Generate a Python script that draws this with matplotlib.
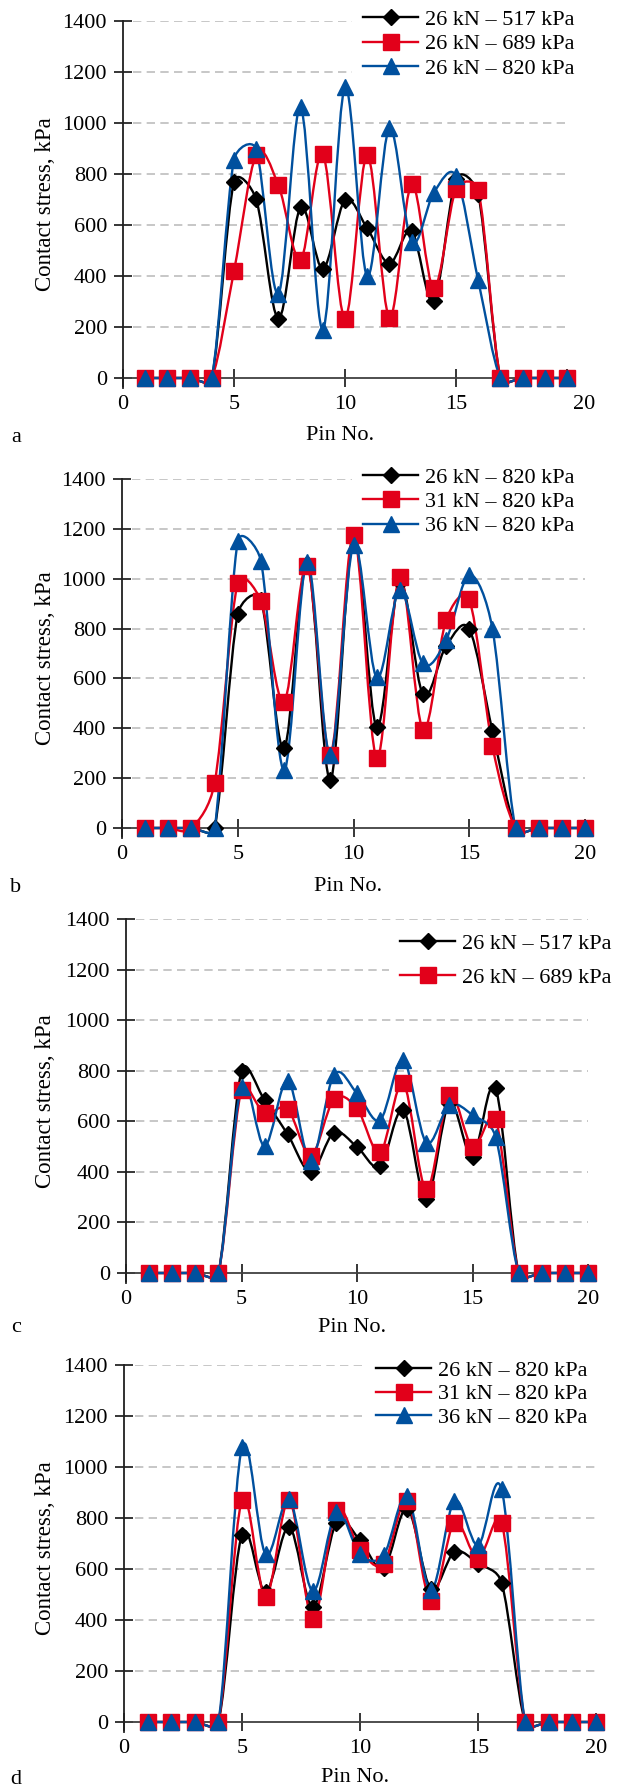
import numpy as np
import matplotlib
matplotlib.use("Agg")
import matplotlib.pyplot as plt
from matplotlib.path import Path
from matplotlib.patches import PathPatch
from matplotlib.lines import Line2D
from matplotlib.transforms import ScaledTranslation

plt.rcParams['font.family'] = ['Liberation Serif', 'DejaVu Serif']

# ---------------- data ----------------
pins = list(range(1, 21))
x_ticks = [0, 5, 10, 15, 20]
y_ticks = [0, 200, 400, 600, 800, 1000, 1200, 1400]

# panel a
a_26_517 = [0, 0, 0, 0, 769, 700, 233, 669, 429, 697, 587, 449, 576, 301, 780, 720, 0, 0, 0, 0]
a_26_689 = [0, 0, 0, 0, 420, 874, 756, 464, 878, 233, 874, 237, 759, 353, 741, 739, 0, 0, 0, 0]
a_26_820 = [0, 0, 0, 0, 856, 897, 331, 1061, 190, 1140, 399, 979, 534, 727, 792, 383, 0, 0, 0, 0]
a_labels = ['26 kN – 517 kPa', '26 kN – 689 kPa', '26 kN – 820 kPa']

# panel b
b_26_820 = [0, 0, 0, 0, 858, 915, 319, 1060, 194, 1160, 406, 988, 537, 730, 798, 390, 0, 0, 0, 0]
b_31_820 = [0, 0, 0, 181, 984, 910, 506, 1052, 294, 1175, 281, 1008, 395, 834, 917, 329, 0, 0, 0, 0]
b_36_820 = [0, 0, 0, 0, 1150, 1072, 232, 1068, 292, 1135, 604, 954, 660, 754, 1015, 800, 0, 0, 0, 0]
b_labels = ['26 kN – 820 kPa', '31 kN – 820 kPa', '36 kN – 820 kPa']

# panel c
c_26_517 = [0, 0, 0, 0, 799, 684, 548, 400, 555, 499, 423, 645, 291, 671, 460, 730, 0, 0, 0, 0]
c_26_689 = [0, 0, 0, 0, 724, 631, 649, 464, 687, 651, 477, 750, 331, 704, 499, 608, 0, 0, 0, 0]
c_26_820 = [0, 0, 0, 0, 737, 502, 761, 444, 783, 711, 605, 843, 516, 664, 625, 539, 0, 0, 0, 0]
c_labels = ['26 kN – 517 kPa', '26 kN – 689 kPa', None]

# panel d
d_26_820 = [0, 0, 0, 0, 735, 510, 765, 451, 781, 713, 602, 837, 523, 667, 621, 546, 0, 0, 0, 0]
d_31_820 = [0, 0, 0, 0, 870, 491, 870, 402, 831, 674, 621, 867, 475, 782, 641, 782, 0, 0, 0, 0]
d_36_820 = [0, 0, 0, 0, 1077, 658, 873, 513, 824, 658, 654, 887, 517, 867, 693, 912, 0, 0, 0, 0]
d_labels = ['26 kN – 820 kPa', '31 kN – 820 kPa', '36 kN – 820 kPa']

panel_letters = ['a', 'b', 'c', 'd']
x_label = 'Pin No.'
y_label = 'Contact stress, kPa'

# ---------------- style ----------------
W, H = 632, 1787
COLORS = ['#000000', '#E2001A', '#00509E']
MARKERS = ['D', 's', '^']
MSIZES = [8.5, 11, 12]
LW = 1.7
FS = 16
YMIN = -40

fig = plt.figure(figsize=(W / 100, H / 100), dpi=100)


def fx(x):
    return x / W


def fy(y):
    return 1 - y / H


def smooth_path(xs, ys, sx, sy):
    """Excel-like smoothed Bezier through the points (handles limited to half segment)."""
    P = np.column_stack([np.asarray(xs, float) * sx, np.asarray(ys, float) * sy])
    n = len(P)
    verts = [P[0]]
    codes = [Path.MOVETO]
    for i in range(n - 1):
        p0 = P[i - 1] if i > 0 else P[i]
        p1 = P[i]
        p2 = P[i + 1]
        p3 = P[i + 2] if i + 2 < n else P[i + 1]
        d12 = np.hypot(*(p2 - p1))
        t1 = p2 - p0
        t2 = p3 - p1
        n1 = np.hypot(*t1)
        n2 = np.hypot(*t2)
        c1 = p1.copy()
        c2 = p2.copy()
        if n1 > 0:
            L = min(n1 / 6, d12 / 2)
            c1 = p1 + t1 / n1 * L
        if n2 > 0:
            L = min(n2 / 6, d12 / 2)
            c2 = p2 - t2 / n2 * L
        verts += [c1, c2, p2]
        codes += [Path.CURVE4] * 3
    V = np.array(verts)
    V[:, 0] /= sx
    V[:, 1] /= sy
    return Path(V, codes)


panels = [
    dict(series=[a_26_517, a_26_689, a_26_820], labels=a_labels,
         x0=123, x20=567, y1400=21, y0=378, leg_x=363, leg_y=16, leg_ls=0.19,
         shift20=17, xl_y=436),
    dict(series=[b_26_820, b_31_820, b_36_820], labels=b_labels,
         x0=122, x20=585, y1400=479, y0=828, leg_x=363, leg_y=474, leg_ls=0.17,
         shift20=0, xl_y=886),
    dict(series=[c_26_517, c_26_689, c_26_820], labels=c_labels,
         x0=126, x20=588, y1400=919, y0=1273, leg_x=400, leg_y=940, leg_ls=0.62,
         shift20=0, xl_y=1327),
    dict(series=[d_26_820, d_31_820, d_36_820], labels=d_labels,
         x0=124, x20=596, y1400=1365, y0=1722, leg_x=376, leg_y=1367, leg_ls=0.14,
         shift20=0, xl_y=1778),
]

for k, p in enumerate(panels):
    ppk = (p['y0'] - p['y1400']) / 1400.0
    bottom_px = p['y0'] - YMIN * ppk
    ax = fig.add_axes([fx(p['x0']), fy(bottom_px), (p['x20'] - p['x0']) / W,
                       (bottom_px - p['y1400']) / H])
    ax.set_xlim(0, 20)
    ax.set_ylim(YMIN, 1400)
    ax.patch.set_alpha(0)

    # gridlines
    ax.hlines(y_ticks[1:], 0.45, 20, colors='#bdbdbd', linewidth=1.2,
              linestyles=(0, (5, 3.2)), zorder=1)

    sx = (p['x20'] - p['x0']) / 20.0
    sy = ppk
    handles = []
    for i, ys in enumerate(p['series']):
        path = smooth_path(pins, ys, sx, sy)
        patch = PathPatch(path, facecolor='none', edgecolor=COLORS[i], lw=LW,
                          zorder=3, clip_on=False, capstyle='round', joinstyle='round')
        ax.add_patch(patch)
        ax.plot(pins, ys, linestyle='none', marker=MARKERS[i], ms=MSIZES[i],
                color=COLORS[i], mec=COLORS[i], zorder=4 + i, clip_on=False)
        if p['labels'][i] is not None:
            handles.append((Line2D([], [], color=COLORS[i], lw=LW, marker=MARKERS[i],
                                   ms=MSIZES[i], mec=COLORS[i]), p['labels'][i]))

    # spines
    for s in ['top', 'right']:
        ax.spines[s].set_visible(False)
    ax.spines['bottom'].set_position(('data', 0))
    ax.spines['bottom'].set_color('#404040')
    ax.spines['left'].set_color('#202020')
    ax.spines['bottom'].set_linewidth(1.3)
    ax.spines['left'].set_linewidth(1.3)
    ax.spines['bottom'].set_zorder(2)

    ax.set_xticks(x_ticks)
    ax.set_yticks(y_ticks)
    ax.set_xticklabels([str(v) for v in x_ticks])
    ax.set_yticklabels([str(v) for v in y_ticks])
    ax.tick_params(axis='both', direction='inout', length=13, width=1.1,
                   color='#000000', labelsize=FS)
    ax.tick_params(axis='y', pad=5)
    ax.tick_params(axis='x', pad=6)

    if p['shift20']:
        lbl = ax.get_xticklabels()[-1]
        lbl.set_transform(lbl.get_transform() +
                          ScaledTranslation(p['shift20'] / 100, 0, fig.dpi_scale_trans))

    # legend (drawn above gridlines, below the data marks)
    fs_px = FS * 100 / 72
    leg = ax.legend([h for h, _ in handles], [l for _, l in handles],
                    loc='upper left',
                    bbox_to_anchor=(fx(p['leg_x'] - 0.5 * fs_px), fy(p['leg_y'] - 18)),
                    bbox_transform=fig.transFigure, borderaxespad=0, borderpad=0.5,
                    fontsize=FS, handlelength=2.48, handletextpad=0.32,
                    labelspacing=p['leg_ls'], numpoints=1, frameon=True,
                    fancybox=False, facecolor='white', edgecolor='none', framealpha=1)
    leg.set_zorder(2.5)

    # axis labels and panel letter
    mid_x = (p['x0'] + p['x20']) / 2 - 5
    fig.text(fx(mid_x), fy(p['xl_y']), x_label, ha='center', va='center', fontsize=FS)
    fig.text(fx(46), fy((p['y0'] + p['y1400']) / 2 + 5), y_label, rotation=90,
             ha='center', va='center', fontsize=16.5)
    fig.text(fx(16), fy(p['xl_y'] + 1), panel_letters[k], ha='center', va='center', fontsize=FS)

fig.savefig('out.png', dpi=100)
